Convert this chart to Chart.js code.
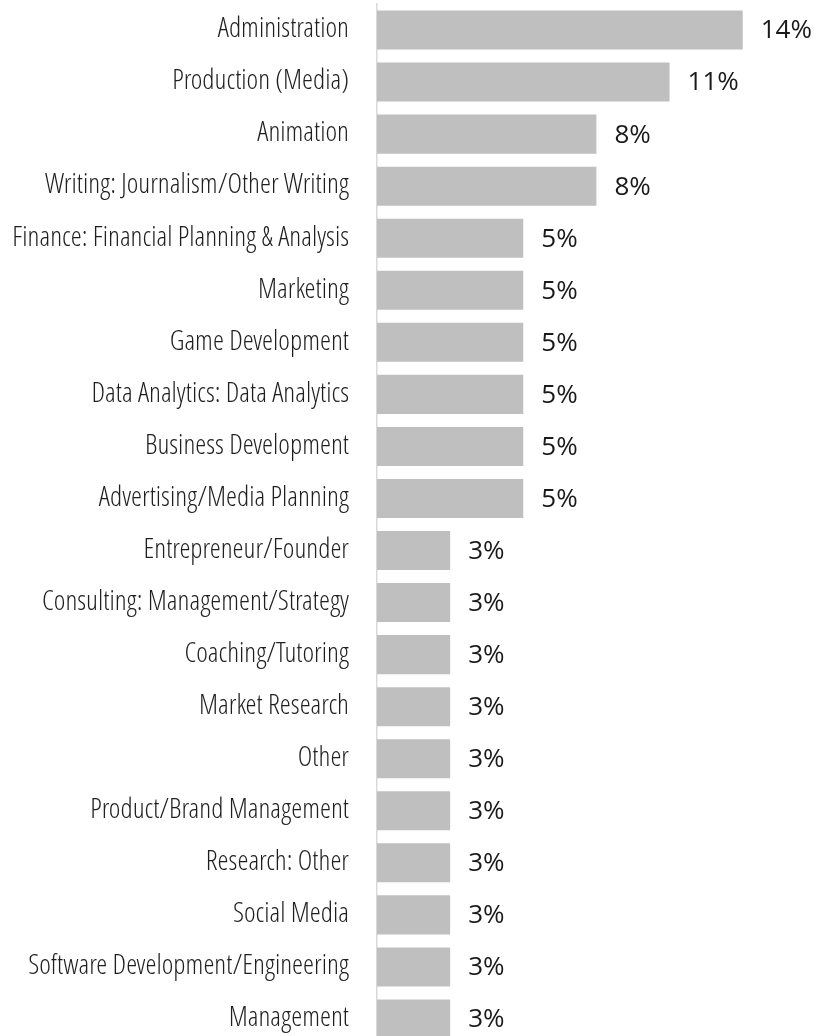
<!DOCTYPE html>
<html>
<head>
<meta charset="utf-8">
<script src="https://cdn.jsdelivr.net/npm/chart.js@4"></script>
<style>
    html, body { margin: 0; padding: 0; background: #fff; overflow: hidden; }
    #wrap { width: 827px; height: 1045px; }
</style>
</head>
<body>
<div id="wrap"><canvas id="chart"></canvas></div>
<script>
// Categories, top to bottom
const categories = [
    'Administration',
    'Production (Media)',
    'Animation',
    'Writing: Journalism/Other Writing',
    'Finance: Financial Planning & Analysis',
    'Marketing',
    'Game Development',
    'Data Analytics: Data Analytics',
    'Business Development',
    'Advertising/Media Planning',
    'Entrepreneur/Founder',
    'Consulting: Management/Strategy',
    'Coaching/Tutoring',
    'Market Research',
    'Other',
    'Product/Brand Management',
    'Research: Other',
    'Social Media',
    'Software Development/Engineering',
    'Management'
];

// Share of respondents (%)
const shares = [13.5, 10.8, 8.1, 8.1, 5.4, 5.4, 5.4, 5.4, 5.4, 5.4,
                2.7, 2.7, 2.7, 2.7, 2.7, 2.7, 2.7, 2.7, 2.7, 2.7];

const labelFamily = "'Open Sans Condensed Light', 'Open Sans Cond Light', 'Liberation Sans Narrow', 'DejaVu Sans Condensed', 'Open Sans', sans-serif";

// Draw the value labels to the right of each bar
const valueLabels = {
    id: 'valueLabels',
    afterDatasetsDraw(chart) {
        const ctx = chart.ctx;
        const meta = chart.getDatasetMeta(0);
        ctx.save();
        ctx.font = "normal 400 26px 'Open Sans', sans-serif";
        ctx.fillStyle = '#1a1a1a';
        ctx.textAlign = 'left';
        ctx.textBaseline = 'middle';
        meta.data.forEach((bar, i) => {
            const v = chart.data.datasets[0].data[i];
            ctx.fillText(Math.round(v) + '%', bar.x + 18, bar.y + 1);
        });
        ctx.restore();
    }
};

const ctx = document.getElementById('chart').getContext('2d');
new Chart(ctx, {
    type: 'bar',
    data: {
        labels: categories,
        datasets: [{
            data: shares,
            backgroundColor: '#bfbfbf',
            borderWidth: 0,
            barPercentage: 0.75,
            categoryPercentage: 1
        }]
    },
    options: {
        indexAxis: 'y',
        responsive: true,
        maintainAspectRatio: false,
        animation: false,
        layout: { padding: { top: 4, right: 16.6, bottom: 0, left: 0 } },
        plugins: {
            legend: { display: false },
            tooltip: { enabled: false }
        },
        scales: {
            x: {
                display: false,
                min: 0,
                max: 16
            },
            y: {
                afterFit(scale) {
                    // fixed label column, no extra room above/below
                    scale.width = 377;
                    scale.paddingTop = 0;
                    scale.paddingBottom = 0;
                },
                grid: { display: false, drawTicks: false },
                border: { display: true, color: '#d9d9d9', width: 1.5 },
                ticks: {
                    padding: 28,
                    color: '#1f1f1f',
                    autoSkip: false,
                    font: { family: labelFamily, size: 28, weight: '300' }
                }
            }
        }
    },
    plugins: [valueLabels]
});
</script>
</body>
</html>
